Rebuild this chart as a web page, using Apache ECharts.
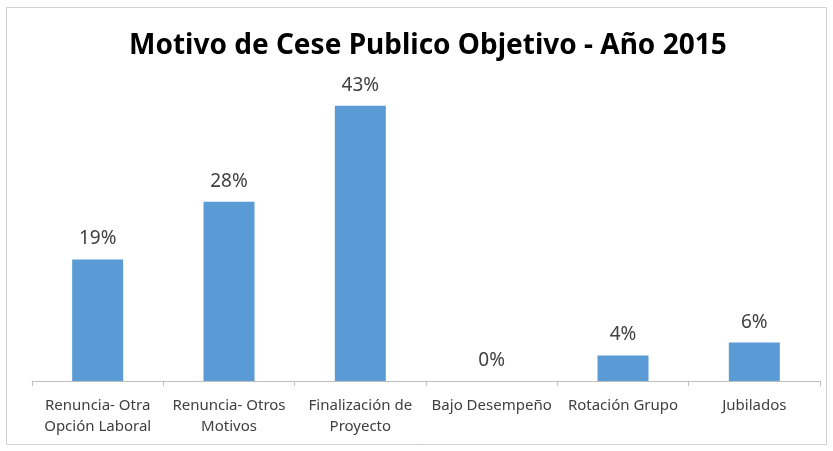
<!DOCTYPE html>
<html><head><meta charset="utf-8">
<script src="https://cdn.jsdelivr.net/npm/echarts@6/dist/echarts.min.js"></script>
<style>html,body{margin:0;padding:0;background:#fff}#c{width:833px;height:451px}</style>
</head><body><div id="c"></div>
<script>
const title = 'Motivo de Cese Publico Objetivo - Año 2015';
const categories = ['Renuncia- Otra\nOpción Laboral', 'Renuncia- Otros\nMotivos', 'Finalización de\nProyecto', 'Bajo Desempeño', 'Rotación Grupo', 'Jubilados'];
const values = [19, 28, 43, 0, 4, 6];

const font = 'Noto Sans';
const chart = echarts.init(document.getElementById('c'));
chart.setOption({
  animation: false,
  title: { text: title, left: 124, top: 27,
    textStyle: { fontFamily: font, fontWeight: 'bold', fontSize: 28, color: '#000' } },
  graphic: [{ type: 'rect', shape: { x: 6.5, y: 7.5, width: 820, height: 437 },
    style: { fill: 'none', stroke: '#d0d0d0', lineWidth: 1 }, silent: true }],
  grid: { left: 32, right: 13, top: 61, bottom: 70 },
  xAxis: { type: 'category', data: categories,
    axisLine: { lineStyle: { color: '#bfbfbf' } },
    axisTick: { show: true, length: 5, lineStyle: { color: '#bfbfbf' } },
    axisLabel: { interval: 0, margin: 14, fontFamily: font, fontSize: 15, color: '#404040', lineHeight: 21 } },
  yAxis: { type: 'value', min: 0, max: 50, show: false, splitLine: { show: false } },
  series: [{ type: 'bar', data: values, barWidth: 51,
    itemStyle: { color: '#5b9bd5' },
    label: { show: true, position: 'top', distance: 11, formatter: '{c}%',
      fontFamily: font, fontSize: 19, color: '#404040' } }]
});
</script></body></html>
